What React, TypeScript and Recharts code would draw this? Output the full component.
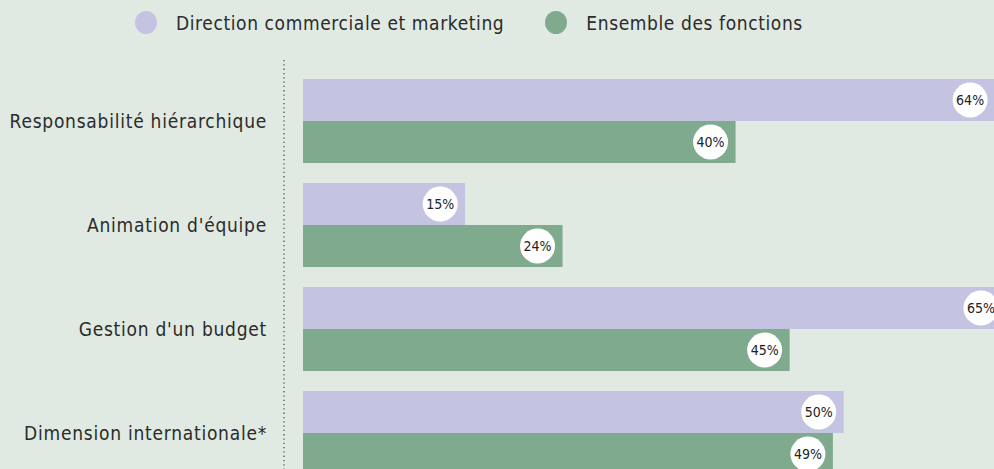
import React from "react";
import { BarChart, Bar, XAxis, YAxis, LabelList } from "recharts";

const categories = [
  "Responsabilité hiérarchique",
  "Animation d'équipe",
  "Gestion d'un budget",
  "Dimension internationale*",
];
const directionCommerciale = [64, 15, 65, 50];
const ensembleFonctions = [40, 24, 45, 49];

const seriesNames = ["Direction commerciale et marketing", "Ensemble des fonctions"];
const colors = ["#c4c4e2", "#7faa8d"];
const BG = "#e0eae2";
const FONT = "'DejaVu Sans Condensed', 'DejaVu Sans', sans-serif";

const chartData = categories.map((name, i) => ({
  name,
  dcm: directionCommerciale[i],
  ens: ensembleFonctions[i],
}));

// white disc with the percentage, sitting at the end of each bar
const PctLabel = (props: any) => {
  const { x, y, width, height, value } = props;
  const cx = x + width - 25;
  const cy = y + height / 2;
  return (
    <g>
      <circle cx={cx} cy={cy} r={17.5} fill="#ffffff" />
      <text
        x={cx}
        y={cy}
        textAnchor="middle"
        dominantBaseline="central"
        fontFamily={FONT}
        fontStretch="condensed"
        fontSize={14}
        fill="#222"
      >
        {value}%
      </text>
    </g>
  );
};

const LegendRow = () => (
  <div
    style={{
      position: "absolute",
      top: 11,
      left: 135,
      display: "flex",
      alignItems: "center",
      fontFamily: FONT,
      fontStretch: "condensed",
      fontSize: 19,
      letterSpacing: 0.6,
      color: "#2b2b2b",
    }}
  >
    {seriesNames.map((n, i) => (
      <div key={n} style={{ display: "flex", alignItems: "center", marginRight: i === 0 ? 41 : 0 }}>
        <span
          style={{
            display: "inline-block",
            width: 22,
            height: 23,
            borderRadius: "50%",
            background: colors[i],
            marginRight: 19,
          }}
        />
        <span>{n}</span>
      </div>
    ))}
  </div>
);

export default function App() {
  return (
    <div
      style={{
        position: "fixed",
        top: 0,
        left: 0,
        width: 994,
        height: 469,
        overflow: "hidden",
        background: BG,
      }}
    >
      <BarChart
        width={1060}
        height={500}
        data={chartData}
        layout="vertical"
        margin={{ top: 60, right: 0, bottom: 15, left: 0 }}
        barCategoryGap={10}
        barGap={0}
      >
        <XAxis type="number" domain={[0, 70]} hide padding={{ left: 19, right: 0 }} />
        <YAxis
          type="category"
          dataKey="name"
          width={284}
          padding={{ top: 9, bottom: 0 }}
          axisLine={{ stroke: "#555", strokeDasharray: "1.3 3", strokeWidth: 1.3 }}
          tickLine={false}
          tickSize={0}
          tickMargin={17}
          tick={{
            fontFamily: FONT,
            fontStretch: "condensed",
            fontSize: 19,
            letterSpacing: 0.75,
            fill: "#2b2b2b",
          }}
        />
        <Bar dataKey="dcm" name={seriesNames[0]} fill={colors[0]} isAnimationActive={false}>
          <LabelList dataKey="dcm" content={PctLabel} />
        </Bar>
        <Bar dataKey="ens" name={seriesNames[1]} fill={colors[1]} isAnimationActive={false}>
          <LabelList dataKey="ens" content={PctLabel} />
        </Bar>
      </BarChart>
      <LegendRow />
    </div>
  );
}
